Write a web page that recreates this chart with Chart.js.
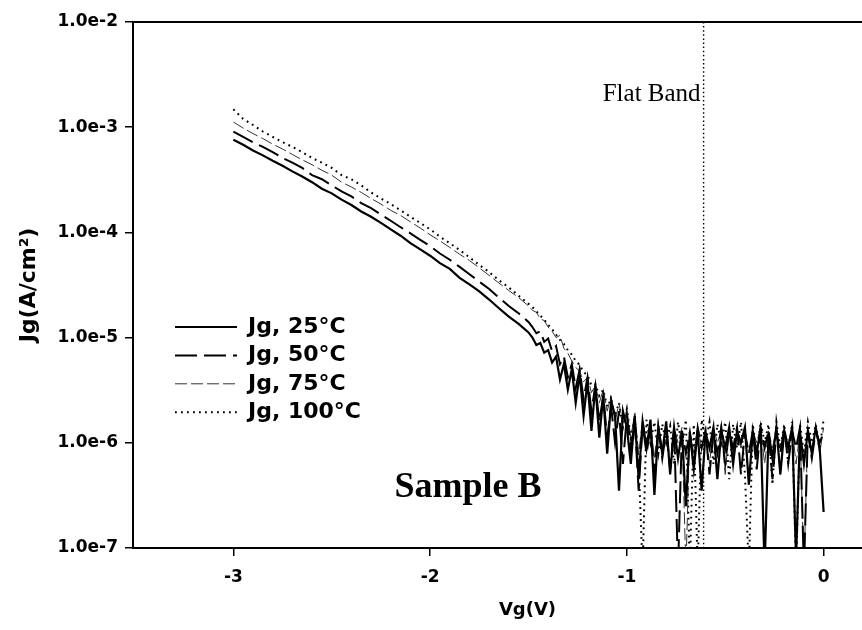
<!DOCTYPE html>
<html>
<head>
<meta charset="utf-8">
<script src="https://cdn.jsdelivr.net/npm/chart.js@4.4.0/dist/chart.umd.min.js"></script>
<style>
html,body{margin:0;padding:0;background:#fff;}
#wrap{position:relative;width:862px;height:630px;}
canvas{display:block;}
</style>
</head>
<body>
<div id="wrap"><canvas id="c" width="862" height="630"></canvas></div>
<script>
// ---- data ----
const vg = [
  -3.00,-2.95,-2.90,-2.85,-2.80,-2.75,-2.70,-2.65,-2.60,-2.55,
  -2.50,-2.45,-2.40,-2.35,-2.30,-2.25,-2.20,-2.15,-2.10,-2.05,
  -2.00,-1.95,-1.90,-1.85,-1.80,-1.75,-1.70,-1.65,-1.60,-1.55,-1.50,
  -1.48,-1.46,-1.44,-1.42,-1.40,-1.38,-1.36,-1.34,-1.32,-1.30,
  -1.28,-1.26,-1.24,-1.22,-1.20,-1.18,-1.16,-1.14,-1.12,-1.10,
  -1.08,-1.06,-1.04,-1.02,-1.00,-0.98,-0.96,-0.94,-0.92,-0.90,
  -0.88,-0.86,-0.84,-0.82,-0.80,-0.78,-0.76,-0.74,-0.72,-0.70,
  -0.68,-0.66,-0.64,-0.62,-0.60,-0.58,-0.56,-0.54,-0.52,-0.50,
  -0.48,-0.46,-0.44,-0.42,-0.40,-0.38,-0.36,-0.34,-0.32,-0.30,
  -0.28,-0.26,-0.24,-0.22,-0.20,-0.18,-0.16,-0.14,-0.12,-0.10,
  -0.08,-0.06,-0.04,-0.02,0.00
];
const jg25 = [
  7.6e-4,6.8e-4,6.0e-4,5.4e-4,4.8e-4,4.3e-4,3.8e-4,3.4e-4,3.0e-4,2.6e-4,
  2.35e-4,2.05e-4,1.82e-4,1.58e-4,1.41e-4,1.23e-4,1.07e-4,9.3e-5,7.9e-5,6.9e-5,
  6.0e-5,5.1e-5,4.5e-5,3.7e-5,3.2e-5,2.75e-5,2.3e-5,1.9e-5,1.58e-5,1.35e-5,1.12e-5,
  1.0e-5,8.5e-6,8.9e-6,7.2e-6,7.6e-6,5.8e-6,6.6e-6,4.0e-6,5.6e-6,3.2e-6,
  5.0e-6,2.4e-6,4.5e-6,1.8e-6,3.8e-6,1.3e-6,3.5e-6,1.12e-6,2.8e-6,7.9e-7,
  2.5e-6,1.8e-6,3.5e-7,2.0e-6,1.4e-6,6.3e-7,1.8e-6,4.5e-7,1.6e-6,8.9e-7,
  1.66e-6,3.2e-7,1.4e-6,7.9e-7,1.6e-6,5.0e-7,1.4e-6,7.1e-7,1.3e-6,2.5e-7,
  1.26e-6,5.6e-7,1.3e-6,3.5e-7,1.26e-6,8.9e-7,1.4e-6,4.5e-7,1.3e-6,8.9e-7,
  1.4e-6,6.3e-7,1.3e-6,1.0e-6,1.4e-6,4.0e-7,1.3e-6,7.9e-7,1.4e-6,6.3e-8,
  1.26e-6,7.1e-7,1.4e-6,5.0e-7,1.3e-6,8.9e-7,1.4e-6,7.9e-8,1.26e-6,6.3e-7,
  1.3e-6,7.9e-7,1.4e-6,8.9e-7,2.2e-7
];
const jg50 = [
  9.1e-4,8.1e-4,7.2e-4,6.5e-4,5.8e-4,5.1e-4,4.6e-4,4.1e-4,3.5e-4,3.2e-4,
  2.8e-4,2.45e-4,2.2e-4,1.9e-4,1.7e-4,1.48e-4,1.29e-4,1.12e-4,9.8e-5,8.5e-5,
  7.4e-5,6.3e-5,5.5e-5,4.7e-5,4.0e-5,3.4e-5,2.9e-5,2.4e-5,2.0e-5,1.7e-5,1.41e-5,
  1.26e-5,1.1e-5,1.15e-5,9.1e-6,9.8e-6,7.4e-6,8.3e-6,5.6e-6,6.6e-6,4.2e-6,
  5.6e-6,3.3e-6,5.0e-6,2.6e-6,4.2e-6,2.0e-6,3.5e-6,1.58e-6,2.8e-6,1.12e-6,
  2.2e-6,1.0e-6,2.0e-6,6.3e-7,1.8e-6,8.9e-7,1.6e-6,3.5e-7,1.5e-6,7.9e-7,
  1.4e-6,5.0e-7,1.4e-6,7.1e-7,1.3e-6,5.6e-7,1.4e-6,6.3e-8,1.3e-6,7.9e-7,
  1.26e-6,6.3e-7,1.4e-6,8.9e-7,1.3e-6,5.0e-7,1.26e-6,7.9e-7,1.4e-6,6.3e-7,
  1.3e-6,8.9e-7,1.4e-6,5.0e-7,1.26e-6,7.9e-7,1.3e-6,5.6e-7,1.4e-6,8.9e-7,
  1.3e-6,4.5e-7,1.26e-6,7.9e-7,1.4e-6,6.3e-7,1.3e-6,8.9e-7,1.4e-6,6.3e-8,
  1.26e-6,7.1e-7,1.3e-6,1.0e-6,1.26e-6
];
const jg75 = [
  1.12e-3,9.8e-4,8.7e-4,7.8e-4,6.9e-4,6.2e-4,5.5e-4,4.9e-4,4.4e-4,3.9e-4,
  3.5e-4,3.0e-4,2.7e-4,2.4e-4,2.1e-4,1.86e-4,1.62e-4,1.45e-4,1.26e-4,1.1e-4,
  9.5e-5,8.3e-5,7.2e-5,6.2e-5,5.4e-5,4.6e-5,3.9e-5,3.3e-5,2.8e-5,2.4e-5,2.0e-5,
  1.82e-5,1.74e-5,1.51e-5,1.45e-5,1.26e-5,1.15e-5,1.0e-5,1.05e-5,7.9e-6,7.1e-6,
  6.0e-6,5.2e-6,4.8e-6,3.8e-6,4.2e-6,3.0e-6,3.5e-6,2.4e-6,3.2e-6,2.0e-6,
  2.8e-6,1.58e-6,2.4e-6,1.4e-6,2.1e-6,1.12e-6,1.9e-6,7.9e-7,1.66e-6,1.0e-6,
  1.58e-6,7.1e-7,1.5e-6,8.9e-7,1.45e-6,6.3e-7,1.4e-6,1.0e-6,1.4e-6,6.3e-8,
  1.3e-6,7.9e-7,1.4e-6,8.9e-7,1.26e-6,6.3e-7,1.4e-6,1.0e-6,1.3e-6,5.0e-7,
  1.4e-6,7.9e-7,1.3e-6,8.9e-7,1.4e-6,4.0e-7,1.3e-6,1.0e-6,1.4e-6,6.3e-7,
  1.3e-6,8.9e-7,1.4e-6,5.0e-7,1.3e-6,1.0e-6,1.4e-6,6.3e-7,1.3e-6,6.3e-8,
  1.4e-6,8.9e-7,1.3e-6,7.9e-7,1.4e-6
];
const jg100 = [
  1.48e-3,1.2e-3,1.05e-3,9.1e-4,8.1e-4,7.2e-4,6.5e-4,5.8e-4,5.1e-4,4.6e-4,
  4.1e-4,3.5e-4,3.2e-4,2.8e-4,2.4e-4,2.1e-4,1.86e-4,1.62e-4,1.41e-4,1.23e-4,
  1.07e-4,9.1e-5,7.9e-5,6.8e-5,5.8e-5,4.9e-5,4.2e-5,3.5e-5,3.0e-5,2.5e-5,2.1e-5,
  1.95e-5,1.78e-5,1.62e-5,1.48e-5,1.32e-5,1.2e-5,1.07e-5,9.5e-6,8.7e-6,7.6e-6,
  6.9e-6,6.0e-6,5.5e-6,4.7e-6,4.4e-6,3.5e-6,3.6e-6,2.8e-6,3.2e-6,2.2e-6,
  2.6e-6,1.8e-6,2.4e-6,1.4e-6,2.1e-6,1.12e-6,1.8e-6,6.3e-7,6.3e-8,1.66e-6,
  1.0e-6,1.58e-6,7.9e-7,1.5e-6,1.0e-6,1.45e-6,6.3e-7,1.58e-6,8.9e-7,1.66e-6,
  6.3e-8,1.5e-6,6.3e-8,1.66e-6,1.0e-6,1.58e-6,6.3e-7,1.5e-6,1.0e-6,1.58e-6,
  4.5e-7,1.5e-6,8.9e-7,1.58e-6,5.0e-7,6.3e-8,1.5e-6,7.9e-7,1.58e-6,1.0e-6,
  1.5e-6,4.0e-7,1.58e-6,8.9e-7,1.5e-6,6.3e-7,1.58e-6,6.3e-8,1.5e-6,7.9e-7,
  1.58e-6,1.0e-6,1.5e-6,8.9e-7,1.66e-6
];
const seriesLabels = ['Jg, 25°C', 'Jg, 50°C', 'Jg, 75°C', 'Jg, 100°C'];
const xTickValues = [-3, -2, -1, 0];
const yTickValues = [1e-7, 1e-6, 1e-5, 1e-4, 1e-3, 1e-2];
const yTickLabels = ['1.0e-7', '1.0e-6', '1.0e-5', '1.0e-4', '1.0e-3', '1.0e-2'];
const flatBandV = -0.61;

// ---- chart ----
const pts = arr => vg.map((v, i) => ({x: v, y: arr[i]}));
const SANS = '"DejaVu Sans", sans-serif';
const SERIF = '"Liberation Serif", "Times New Roman", serif';

const layoutPlugin = {
  id: 'layoutPlugin',
  afterLayout(chart) {
    // the original x axis runs on past the cropped right edge of the picture
    const s = chart.scales.x;
    s.right = s.left + 789;
    s.width = 789;
    s.configure();
  },
  beforeDraw(chart) {
    const lg = chart.legend;
    if (lg) { lg.left = 168.6; lg.right = 560; lg.top = 309.6; lg.bottom = 545; lg.width = 391.4; lg.height = 235.4; }
  },
  afterDraw(chart) {
    const ctx = chart.ctx;
    const xs = chart.scales.x;
    ctx.save();
    ctx.fillStyle = '#000';
    ctx.textBaseline = 'alphabetic';
    ctx.font = '25px ' + SERIF;
    ctx.textAlign = 'right';
    ctx.fillText('Flat Band', xs.getPixelForValue(flatBandV) - 3, 101);
    ctx.font = 'bold 36px ' + SERIF;
    ctx.textAlign = 'center';
    ctx.fillText('Sample B', 468, 497);
    ctx.restore();
  }
};

new Chart(document.getElementById('c'), {
  type: 'line',
  data: {
    datasets: [
      {label: seriesLabels[0], data: pts(jg25), borderColor: '#000', borderWidth: 2.2, order: 0},
      {label: seriesLabels[1], data: pts(jg50), borderColor: '#000', borderWidth: 2, borderDash: [22, 7], order: 1},
      {label: seriesLabels[2], data: pts(jg75), borderColor: '#333', borderWidth: 1, borderDash: [12, 4], order: 2},
      {label: seriesLabels[3], data: pts(jg100), borderColor: '#000', borderWidth: 2, borderDash: [1.8, 4.2], order: 3},
      {label: 'Flat Band', data: [{x: flatBandV, y: 1e-2}, {x: flatBandV, y: 1e-7}], borderColor: '#000', borderWidth: 1.4, borderDash: [1.5, 2.6], order: 4}
    ]
  },
  options: {
    responsive: false,
    animation: false,
    devicePixelRatio: 1,
    events: [],
    elements: {
      point: {radius: 0},
      line: {tension: 0, fill: false, borderJoinStyle: 'miter'}
    },
    layout: {padding: 0},
    scales: {
      x: {
        type: 'linear', position: 'bottom', min: -3.51, max: 0.5,
        afterBuildTicks: s => { s.ticks = xTickValues.map(v => ({value: v})); },
        afterFit: s => { s.height = 82; },
        ticks: {color: '#000', font: {family: SANS, size: 17, weight: 'bold'}, padding: 11, callback: v => String(v), maxRotation: 0},
        grid: {drawOnChartArea: false, drawTicks: true, tickLength: 8, color: '#000', lineWidth: 1.5},
        border: {display: true, color: '#000', width: 2},
        title: {display: true, text: 'Vg(V)', color: '#000', font: {family: SANS, size: 18, weight: 'bold'}, padding: {top: 0, bottom: 9}}
      },
      x2: {
        type: 'linear', position: 'top', min: 0, max: 1,
        afterFit: s => { s.height = 22; },
        ticks: {display: false},
        grid: {display: false},
        border: {display: true, color: '#000', width: 2}
      },
      y: {
        type: 'logarithmic', position: 'left', min: 1e-7, max: 1e-2,
        afterBuildTicks: s => { s.ticks = yTickValues.map(v => ({value: v})); },
        afterFit: s => { s.width = 133; },
        ticks: {color: '#000', font: {family: SANS, size: 17, weight: 'bold'}, padding: 7,
                callback: (v, i) => yTickLabels[i]},
        grid: {drawOnChartArea: false, drawTicks: true, tickLength: 8, color: '#000', lineWidth: 1.5},
        border: {display: true, color: '#000', width: 2},
        title: {display: true, text: 'Jg(A/cm²)', color: '#000', font: {family: SANS, size: 22, weight: 'bold'}, padding: {top: 16, bottom: 0}}
      }
    },
    plugins: {
      tooltip: {enabled: false},
      legend: {
        display: true,
        position: 'chartArea',
        align: 'start',
        labels: {
          color: '#000',
          font: {family: SANS, size: 22, weight: 'bold'},
          usePointStyle: true,
          pointStyle: 'line',
          pointStyleWidth: 62,
          padding: 6.4,
          generateLabels: chart => Chart.defaults.plugins.legend.labels.generateLabels(chart)
            .filter(item => item.datasetIndex < 4)
            .map(item => {
              const ds = chart.data.datasets[item.datasetIndex];
              item.lineDash = ds.borderDash || [];
              item.lineWidth = ds.borderWidth;
              item.strokeStyle = ds.borderColor;
              item.lineCap = 'butt';
              return item;
            })
        }
      }
    }
  },
  plugins: [layoutPlugin]
});
</script>
</body>
</html>
